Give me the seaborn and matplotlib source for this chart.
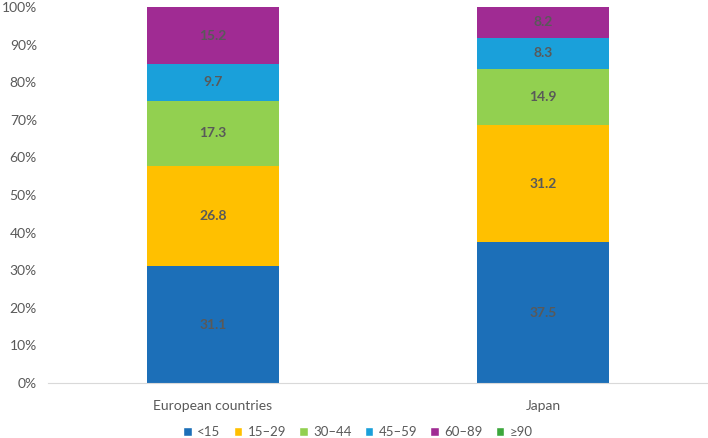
import numpy as np
import pandas as pd
import seaborn as sns
import matplotlib.pyplot as plt
from matplotlib.patches import Patch

# Data (percent of each group)
groups = ['European countries', 'Japan']
age_bands = ['<15', '15\u201329', '30\u201344', '45\u201359', '60\u201389', '\u226590']
europe = [31.1, 26.8, 17.3, 9.7, 15.2, 0.0]
japan = [37.5, 31.2, 14.9, 8.3, 8.2, 0.0]
colors = ['#1C6FB8', '#FFC000', '#92D050', '#1AA0DA', '#A02B93', '#3CA73C']

sns.set_style('white')
plt.rcParams['font.family'] = ['Lato', 'DejaVu Sans']

# normalise to 100% like a 100% stacked bar
vals = np.array([europe, japan], dtype=float)
vals = vals / vals.sum(axis=1, keepdims=True) * 100
cum = np.cumsum(vals, axis=1)

df = pd.DataFrame(cum, columns=age_bands)
df['group'] = groups

fig = plt.figure(figsize=(7.08, 4.38), dpi=100)
ax = fig.add_axes([48 / 708, 1 - 383 / 438, 660 / 708, 376 / 438])

# draw tallest cumulative first so lower layers sit on top
for i in range(len(age_bands) - 1, -1, -1):
    sns.barplot(data=df, x='group', y=age_bands[i], color=colors[i],
                width=0.4, ax=ax, saturation=1, linewidth=0)

for g in range(len(groups)):
    bottom = 0
    for i, v in enumerate(vals[g]):
        if v > 0:
            ax.text(g, bottom + v / 2, f'{[europe, japan][g][i]:.1f}', ha='center',
                    va='center', fontsize=10, fontweight='bold', color='#595959')
        bottom += v

ax.set_ylim(0, 100)
ax.set_xlim(-0.5, 1.5)
ax.set_yticks(np.arange(0, 101, 10))
ax.set_yticklabels([f'{t}%' for t in range(0, 101, 10)])
ax.set_xlabel('')
ax.set_ylabel('')
ax.tick_params(axis='both', length=0, labelsize=10, labelcolor='#595959')
ax.tick_params(axis='x', pad=12)
ax.tick_params(axis='y', pad=8)
for s in ['top', 'right', 'left']:
    ax.spines[s].set_visible(False)
ax.spines['bottom'].set_color('#D9D9D9')

handles = [Patch(facecolor=c, label=l) for c, l in zip(colors, age_bands)]
leg = fig.legend(handles=handles, loc='center', bbox_to_anchor=(358 / 708, 1 - 432 / 438),
                 ncol=6, frameon=False, fontsize=9.5, handlelength=0.65, handleheight=0.65,
                 handletextpad=0.4, columnspacing=1.0, borderpad=0, borderaxespad=0)
for t in leg.get_texts():
    t.set_color('#595959')

fig.savefig('out.png', dpi=100)
